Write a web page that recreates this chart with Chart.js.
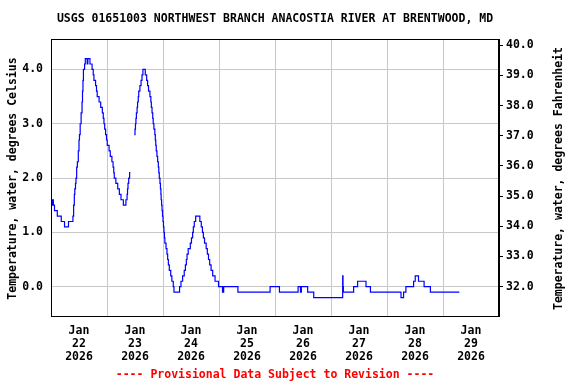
<!DOCTYPE html>
<html><head><meta charset="utf-8">
<script src="https://cdn.jsdelivr.net/npm/chart.js@4/dist/chart.umd.min.js"></script>
<style>html,body{margin:0;padding:0;background:#fff}canvas{display:block}</style>
</head><body>
<canvas id="c" width="576" height="384"></canvas>
<script>
const titleText = 'USGS 01651003 NORTHWEST BRANCH ANACOSTIA RIVER AT BRENTWOOD, MD';
const noteText = '---- Provisional Data Subject to Revision ----';
const yTitleLeft = 'Temperature, water, degrees Celsius';
const yTitleRight = 'Temperature, water, degrees Fahrenheit';
const monthLabel = 'Jan';
const yearLabel = '2026';
const dayLabels = ['22','23','24','25','26','27','28','29'];
const xTickHours = [0,12,24,36,48,60,72,84,96,108,120,132,144,156,168,180,192];
const celsiusTicks = [0,1,2,3,4];
const fahrenheitTicks = [32,33,34,35,36,37,38,39,40];

// hours since Jan 22 2026 00:00, temperature (deg C) from that time on
const hours = [0,0.5,0.75,1.0,1.5,2.7,4.4,5.8,7.5,9.4,9.7,10.0,10.2,10.5,10.7,11.0,11.3,11.7,12.0,12.2,12.5,12.9,13.3,13.5,13.7,13.9,14.4,14.7,15.5,15.8,16.7,17.6,18.1,18.4,19.1,19.5,19.8,20.6,21.3,22.0,22.4,22.7,23.0,23.4,23.8,24.1,24.9,25.4,26.1,26.6,26.9,27.1,27.8,28.6,29.3,30.0,31.0,32.1,32.6,32.8,33.0,33.3,33.7,34.0,34.8,
35.7,36.0,36.2,36.4,36.6,36.9,37.1,37.4,37.6,38.1,38.6,39.0,39.4,40.4,41.0,41.4,41.8,42.4,42.8,43.0,43.3,43.6,43.8,44.1,44.5,44.7,44.9,45.1,45.4,45.7,46.0,46.2,46.4,46.7,46.9,47.1,47.2,47.4,47.6,47.8,48.0,48.2,48.4,48.6,48.8,49.3,49.7,50.0,50.3,50.7,51.3,51.8,52.4,52.7,
55.1,55.7,56.4,57.1,57.6,58.0,58.3,58.8,59.7,60.2,60.7,61.0,61.4,62.0,63.8,64.4,64.9,65.3,65.8,66.5,67.0,67.5,68.0,68.6,69.3,70.3,71.8,73.5,74.0,80.1,93.9,97.9,105.9,106.9,107.3,110.0,112.6,
125.0,125.15,125.3,129.7,131.4,135.0,136.9,150.0,151.1,152.1,155.4,156.1,157.5,159.9,162.6,175.0];
const tempC = [1.6,1.5,1.6,1.5,1.4,1.3,1.2,1.1,1.2,1.3,1.5,1.7,1.8,1.9,2.0,2.2,2.3,2.5,2.7,2.8,3.0,3.2,3.4,3.6,3.8,4.0,4.1,4.2,4.1,4.2,4.1,4.0,3.9,3.8,3.7,3.6,3.5,3.4,3.3,3.2,3.1,3.0,2.9,2.8,2.7,2.6,2.5,2.4,2.3,2.2,2.1,2.0,1.9,1.8,1.7,1.6,1.5,1.6,1.7,1.8,1.9,2.0,2.1,2.1,null,
2.8,2.9,3.0,3.1,3.2,3.3,3.4,3.5,3.6,3.7,3.8,3.9,4.0,3.9,3.8,3.7,3.6,3.5,3.4,3.3,3.2,3.1,3.0,2.9,2.8,2.7,2.6,2.5,2.4,2.3,2.2,2.1,2.0,1.9,1.8,1.7,1.6,1.5,1.4,1.3,1.2,1.1,1.0,0.9,0.8,0.7,0.6,0.5,0.4,0.3,0.2,0.1,0.0,-0.1,
0.0,0.1,0.2,0.3,0.4,0.5,0.6,0.7,0.8,0.9,1.0,1.1,1.2,1.3,1.2,1.1,1.0,0.9,0.8,0.7,0.6,0.5,0.4,0.3,0.2,0.1,0.0,-0.1,0.0,-0.1,0.0,-0.1,0.0,-0.1,0.0,-0.1,-0.2,
0.2,0.0,-0.1,0.0,0.1,0.0,-0.1,-0.2,-0.1,0.0,0.1,0.2,0.1,0.0,-0.1,-0.1];

const yMinC = -0.54, yMaxC = 4.56;
const toF = c => c * 1.8 + 32;

const FAMILY = "'DejaVu Sans Mono', 'Liberation Mono', monospace";
const GRID = '#c8c8c8';
const tickFont = {family: FAMILY, size: 11.5, weight: 'bold', lineHeight: 1.13};

const points = hours.map((h, i) => ({x: h, y: tempC[i]}));

const decor = {
  id: 'decor',
  afterDraw(chart) {
    const ctx = chart.ctx;
    const a = chart.chartArea;
    ctx.save();
    ctx.strokeStyle = '#000';
    ctx.lineWidth = 1;
    ctx.strokeRect(Math.round(a.left) + 0.5, Math.round(a.top) + 0.5, Math.round(a.right - a.left) - 1, Math.round(a.bottom - a.top));
    ctx.font = 'bold 11.5px ' + FAMILY;
    ctx.fillStyle = '#000';
    ctx.textAlign = 'center';
    ctx.textBaseline = 'middle';
    const cx = (a.left + a.right) / 2;
    ctx.fillText(titleText, cx, 19);
    ctx.fillStyle = '#ff0000';
    ctx.fillText(noteText, cx, 375);
    ctx.fillStyle = '#000';
    const cy = (a.top + a.bottom) / 2 + 1;
    ctx.save(); ctx.translate(13, cy); ctx.rotate(-Math.PI / 2); ctx.fillText(yTitleLeft, 0, 0); ctx.restore();
    ctx.save(); ctx.translate(559, cy); ctx.rotate(-Math.PI / 2); ctx.fillText(yTitleRight, 0, 0); ctx.restore();
    ctx.restore();
  }
};

new Chart(document.getElementById('c'), {
  type: 'line',
  data: {datasets: [{
    data: points,
    borderColor: '#0000ff',
    borderWidth: 1.2,
    pointRadius: 0,
    stepped: true,
    spanGaps: false,
    fill: false
  }]},
  options: {
    responsive: false,
    animation: false,
    devicePixelRatio: 1,
    layout: {padding: {top: 39, left: 0, right: 0, bottom: 0}},
    plugins: {legend: {display: false}, tooltip: {enabled: false}, title: {display: false}},
    scales: {
      x: {
        type: 'linear', min: 0, max: 192,
        afterBuildTicks: s => { s.ticks = xTickHours.map(v => ({value: v})); },
        afterFit: s => { s.height = 68; },
        grid: {color: c => (c.tick && c.tick.value % 24 === 0) ? GRID : 'rgba(0,0,0,0)', drawTicks: false},
        border: {display: true, color: '#000'},
        ticks: {autoSkip: false, maxRotation: 0, padding: 9, color: '#000', font: tickFont,
          callback: v => (v % 24 === 12) ? [monthLabel, dayLabels[(v - 12) / 24], yearLabel] : ''}
      },
      y: {
        position: 'left', min: yMinC, max: yMaxC,
        afterBuildTicks: s => { s.ticks = celsiusTicks.map(v => ({value: v})); },
        afterFit: s => { s.width = 51; },
        grid: {color: GRID, drawTicks: false},
        border: {display: true, color: '#000'},
        ticks: {padding: 8, color: '#000', font: tickFont, callback: v => Number(v).toFixed(1)}
      },
      y2: {
        position: 'right', min: toF(yMinC), max: toF(yMaxC),
        afterBuildTicks: s => { s.ticks = fahrenheitTicks.map(v => ({value: v})); },
        afterFit: s => { s.width = 77; },
        grid: {drawOnChartArea: false, color: '#000', tickLength: 4},
        border: {display: true, color: '#000'},
        ticks: {padding: 3, color: '#000', font: tickFont, callback: v => Number(v).toFixed(1)}
      }
    }
  },
  plugins: [decor]
});
</script>
</body></html>
